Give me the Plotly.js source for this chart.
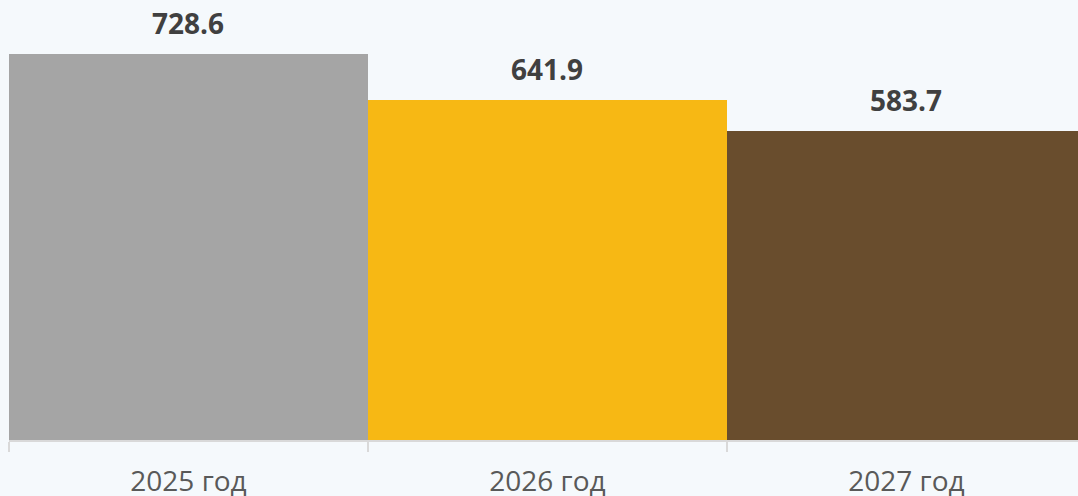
<!DOCTYPE html>
<html><head><meta charset="utf-8">
<script src="https://cdn.plot.ly/plotly-3.0.1.min.js"></script>
<style>html,body{margin:0;padding:0;background:#f5f9fc;}#chart{width:1078px;height:496px;}</style>
</head><body><div id="chart"></div>
<script>
const categories = ["2025 год", "2026 год", "2027 год"];
const values = [728.6, 641.9, 583.7];
const valueLabels = ["728.6", "641.9", "583.7"];
const barColors = ["#a5a5a5", "#f7b814", "#694d2d"];

const trace = {
  type: "bar",
  x: categories,
  y: values,
  marker: {color: barColors, line: {width: 0}},
  hoverinfo: "skip"
};

const annotations = categories.map((c, i) => ({
  x: c, y: values[i], text: "<b>" + valueLabels[i] + "</b>",
  showarrow: false, yanchor: "middle", yshift: 31,
  font: {family: "Open Sans", size: 28, color: "#404040"}
}));

const layout = {
  width: 1078, height: 496,
  margin: {l: 9, r: 0, t: 0, b: 56},
  paper_bgcolor: "#f5f9fc",
  plot_bgcolor: "#f5f9fc",
  bargap: 0,
  showlegend: false,
  xaxis: {
    type: "category",
    range: [-0.5, 2.478],
    showline: true, linecolor: "#d9d9d9", linewidth: 1.5,
    ticks: "outside", tickson: "boundaries", ticklen: 10, tickcolor: "#d9d9d9", tickwidth: 1.5,
    ticklabelstandoff: 16,
    showgrid: false, zeroline: false,
    tickfont: {family: "Open Sans", size: 28, color: "#595959"}
  },
  yaxis: {
    range: [0, 830.5],
    visible: false, showgrid: false, zeroline: false
  },
  annotations: annotations
};

Plotly.newPlot("chart", [trace], layout, {staticPlot: true, displayModeBar: false});
</script></body></html>
